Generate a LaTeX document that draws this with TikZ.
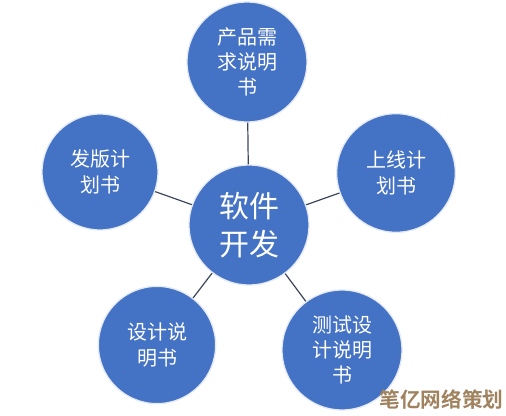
\documentclass[tikz,border=0pt]{standalone}
\usepackage{fontspec}
\newfontfamily\cjk{Noto Sans CJK SC}
\newfontfamily\cjkbold{Noto Sans CJK SC Bold}
\definecolor{bubble}{RGB}{68,114,196}
\definecolor{spoke}{RGB}{60,70,90}
\definecolor{mark}{RGB}{160,130,95}
\tikzset{every picture/.style={line width=0.75pt}}
\tikzset{
  bubble/.style={circle,fill=bubble,draw=white!85!bubble,line width=1pt,minimum size=#1,inner sep=0pt,text=white,align=center,font=\cjk\fontsize{15}{19}\selectfont},
  bubble/.default=88pt,
  spoke/.style={draw=spoke,line width=0.9pt}
}

\begin{document}
\begin{tikzpicture}[x=0.75pt,y=0.75pt,yscale=-1,xscale=1]
\useasboundingbox (0,0) rectangle (506,416);

%Shape: Circle (centre)
\node[bubble=90pt,font=\cjk\fontsize{22.5}{28}\selectfont] (soft) at (249,225) {软件\\开发};
%Shape: Circle (top)
\node[bubble=90pt] (prd) at (247,62) {产品需\\求说明\\书};
%Shape: Circle (left)
\node[bubble=87pt] (rel) at (100,172) {发版计\\划书};
%Shape: Circle (right)
\node[bubble=89pt] (onl) at (396,173) {上线计\\划书};
%Shape: Circle (bottom left)
\node[bubble=88pt] (dsn) at (157,345) {设计说\\明书};
%Shape: Circle (bottom right)
\node[bubble=90pt] (tst) at (342,350) {测试设\\计说明\\书};

% Spokes
\draw[spoke] (soft) -- (prd);
\draw[spoke] (soft) -- (rel);
\draw[spoke] (soft) -- (onl);
\draw[spoke] (soft) -- (dsn);
\draw[spoke] (soft) -- (tst);

% Text Node
\node[anchor=south east,inner sep=0pt,text=mark,font=\cjkbold\fontsize{15.5}{16}\selectfont] (wm) at (504,410) {笔亿网络策划};

\end{tikzpicture}
\end{document}
